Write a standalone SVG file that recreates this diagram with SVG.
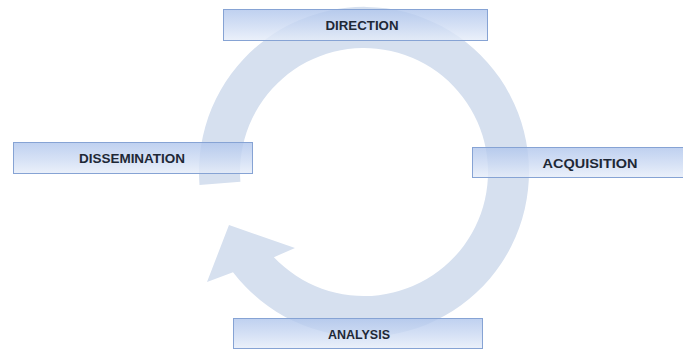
<svg xmlns="http://www.w3.org/2000/svg" width="683" height="354" viewBox="0 0 683 354">
  <defs>
    <linearGradient id="boxFill" x1="0" y1="0" x2="0" y2="1">
      <stop offset="0" stop-color="#afc5ec" stop-opacity="0.8"/>
      <stop offset="0.55" stop-color="#ccdaf3" stop-opacity="0.8"/>
      <stop offset="1" stop-color="#e6edf9" stop-opacity="0.8"/>
    </linearGradient>
    <style>
      .box { fill: url(#boxFill); stroke: #86a3d4; stroke-width: 1; }
      .label { font-family: "Liberation Sans", Arial, sans-serif; font-weight: bold; font-size: 13px; fill: #1e2836; text-anchor: middle; }
      .cycle { fill: #d6e0ef; }
    </style>
  </defs>
  <rect width="683" height="354" fill="#ffffff"/>
  <g id="connectors">
    <path class="cycle" d="M199.5,184.9 A165,165 0 1 1 233,272.2 L207,282 L229,225 L295,248 L273.9,257.2 A124,124 0 1 0 240.4,181.7 Z"/>
  </g>
  <g id="node-direction">
    <rect class="box" x="223.5" y="9.5" width="264" height="31"/>
    <text class="label" x="362" y="30" textLength="73" lengthAdjust="spacingAndGlyphs">DIRECTION</text>
  </g>
  <g id="node-dissemination">
    <rect class="box" x="13.5" y="142.5" width="239" height="31"/>
    <text class="label" x="132" y="163" textLength="106" lengthAdjust="spacingAndGlyphs">DISSEMINATION</text>
  </g>
  <g id="node-acquisition">
    <rect class="box" x="472.5" y="147.5" width="236" height="30"/>
    <text class="label" x="590" y="168" textLength="95" lengthAdjust="spacingAndGlyphs">ACQUISITION</text>
  </g>
  <g id="node-analysis">
    <rect class="box" x="233.5" y="318.5" width="249" height="30"/>
    <text class="label" x="359" y="339" textLength="62" lengthAdjust="spacingAndGlyphs">ANALYSIS</text>
  </g>
</svg>
